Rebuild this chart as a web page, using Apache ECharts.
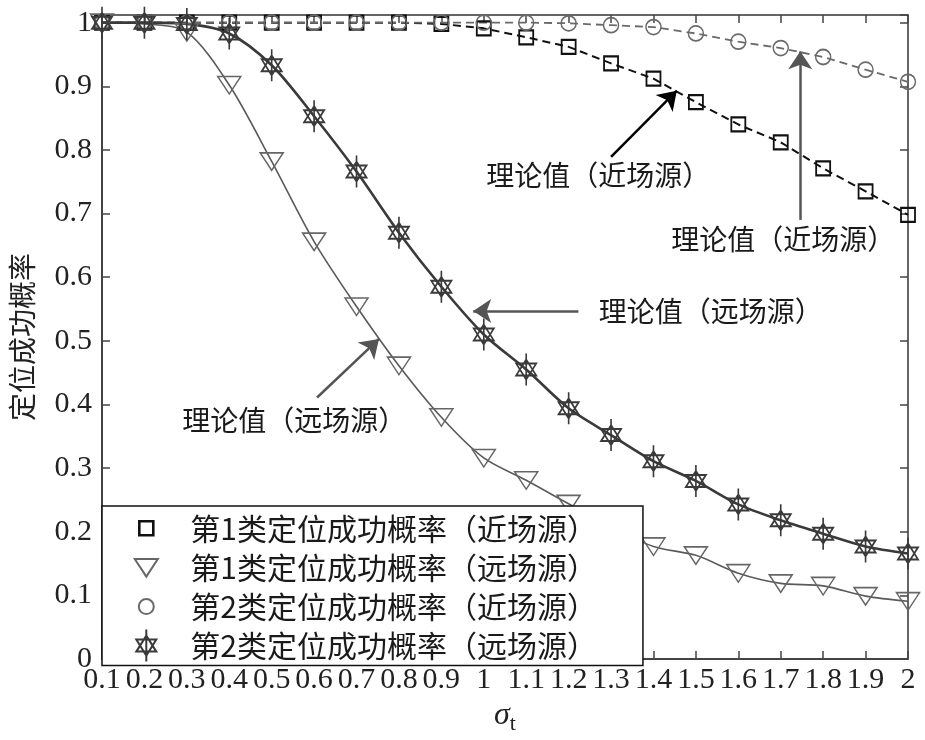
<!DOCTYPE html>
<html>
<head>
<meta charset="utf-8">
<script src="https://cdn.jsdelivr.net/npm/echarts@6/dist/echarts.min.js"></script>
<style>
html,body{margin:0;padding:0;background:#fff;}
#chart{width:925px;height:740px;}
</style>
</head>
<body>
<div id="chart"></div>
<script>
// ---- data ----
var sigmaT = [0.1,0.2,0.3,0.4,0.5,0.6,0.7,0.8,0.9,1.0,1.1,1.2,1.3,1.4,1.5,1.6,1.7,1.8,1.9,2.0];
var type1Near = [1,1,1,1,1,1,1,1,0.998,0.991,0.977,0.962,0.936,0.912,0.875,0.840,0.812,0.771,0.735,0.698];
var type1Far  = [1,0.998,0.985,0.902,0.782,0.656,0.554,0.461,0.380,0.316,0.281,0.244,0.208,0.177,0.163,0.135,0.119,0.115,0.099,0.091];
var type2Near = [1,1,1,1,1,1,1,1,1,1,1,0.999,0.996,0.993,0.983,0.970,0.960,0.946,0.926,0.907];
var type2Far  = [1,1,0.998,0.983,0.933,0.853,0.766,0.670,0.585,0.510,0.455,0.394,0.352,0.311,0.280,0.243,0.218,0.197,0.177,0.166];
var seriesNames = [
  '第1类定位成功概率（近场源）',
  '第1类定位成功概率（远场源）',
  '第2类定位成功概率（近场源）',
  '第2类定位成功概率（远场源）'
];
var annotationTexts = ['理论值（近场源）','理论值（近场源）','理论值（远场源）','理论值（远场源）'];
var annotationTextAt = [[1.27,0.76],[1.706,0.660],[1.535,0.546],[0.553,0.375]];
var arrowFrom = [[1.300,0.789],[1.746,0.690],[1.223,0.547],[0.607,0.411]];
var arrowTo   = [[1.455,0.893],[1.746,0.955],[0.975,0.547],[0.753,0.503]];
var arrowColors = ['#000','#555','#555','#555'];
var xAxisTitle = 'σ';
var xAxisSub = 't';
var yAxisTitle = '定位成功概率';

// ---- symbols (26x32 frame) ----
var FRAME = 'M0 0 M26 32 ';
var symSquare = 'path://' + FRAME + 'M6 9 L20 9 L20 23 L6 23 Z';
var symTriDown = 'path://' + FRAME + 'M1.5 7.5 L24.5 7.5 L13 25 Z';
var symCircle = 'path://' + FRAME + 'M5.5 16 A7.5 7.5 0 1 0 20.5 16 A7.5 7.5 0 1 0 5.5 16 Z';
var symStar = 'path://' + FRAME + 'M13 6 L23 22 L3 22 Z M13 26 L23 10 L3 10 Z M13 0 L13 32';

function pairs(ys){ return sigmaT.map(function(x,i){ return [x, ys[i]]; }); }

var styles = [
  {sym: symSquare, stroke:'#111', line:'#111', lw:2, type:[8,5], smooth:false, bw:2},
  {sym: symTriDown, stroke:'#666', line:'#5a5a5a', lw:1.6, type:'solid', smooth:0.3, bw:1.5},
  {sym: symCircle, stroke:'#6a6a6a', line:'#6a6a6a', lw:1.8, type:[8,5], smooth:false, bw:1.6},
  {sym: symStar, stroke:'#3a3a3a', line:'#3a3a3a', lw:2.6, type:'solid', smooth:0.3, bw:1.8}
];
var datasets = [type1Near, type1Far, type2Near, type2Far];

var series = datasets.map(function(d, i){
  var s = styles[i];
  return {
    name: seriesNames[i],
    type: 'line',
    data: pairs(d),
    symbol: s.sym,
    symbolSize: [26,32],
    smooth: s.smooth,
    lineStyle: {color: s.line, width: s.lw, type: s.type},
    itemStyle: {color: 'rgba(0,0,0,0)', borderColor: s.stroke, borderWidth: s.bw},
    emphasis: {disabled: true},
    animation: false,
    z: 3
  };
});

// annotations
series.push({
  name: 'annot',
  type: 'line',
  data: [],
  animation: false,
  markLine: {
    silent: true,
    symbol: ['none','arrow'],
    symbolSize: 18,
    label: {show: false},
    animation: false,
    data: arrowFrom.map(function(f, i){
      return [
        {coord: f, lineStyle: {color: arrowColors[i], width: 2.5, type: 'solid'}, itemStyle:{color: arrowColors[i]}},
        {coord: arrowTo[i], itemStyle:{color: arrowColors[i]}}
      ];
    })
  },
  markPoint: {
    silent: true,
    symbol: 'rect',
    symbolSize: 1,
    itemStyle: {color: 'rgba(0,0,0,0)'},
    animation: false,
    data: annotationTexts.map(function(t, i){
      return {
        coord: annotationTextAt[i],
        label: {show: true, position: 'inside', formatter: t,
          fontFamily: '"Noto Sans CJK SC"', fontSize: 28, color: '#1a1a1a'}
      };
    })
  }
});

var legendIcons = [symSquare, symTriDown, symCircle, symStar];

var axisLineStyle = {color: '#444', width: 2};
var chart = echarts.init(document.getElementById('chart'), null, {renderer: 'canvas'});
chart.setOption({
  backgroundColor: '#fff',
  animation: false,
  grid: {left: 99, right: 17, top: 15, bottom: 73},
  xAxis: [{
    type: 'value', min: 0.1, max: 2, interval: 0.1,
    name: '{s|' + xAxisTitle + '}{t|' + xAxisSub + '}',
    nameLocation: 'middle', nameGap: 36,
    nameTextStyle: {rich: {
      s: {fontFamily: '"Liberation Serif"', fontStyle: 'italic', fontSize: 32, color: '#222'},
      t: {fontFamily: '"Liberation Serif"', fontSize: 22, color: '#222', padding: [16,0,0,0]}
    }},
    axisLine: {show: true, lineStyle: axisLineStyle},
    axisTick: {show: true, inside: true, length: 8, lineStyle: {color: '#444', width: 1.5}},
    axisLabel: {fontFamily: '"Liberation Serif"', fontSize: 30, color: '#222', margin: 6},
    splitLine: {show: false}
  }, {
    type: 'value', min: 0.1, max: 2, interval: 0.1, position: 'top',
    axisLine: {show: true, onZero: false, lineStyle: {color: '#333', width: 1.5}},
    axisTick: {show: true, inside: true, length: 8, lineStyle: {color: '#444', width: 1.5}},
    axisLabel: {show: false},
    splitLine: {show: false}
  }],
  yAxis: [{
    type: 'value', min: 0, max: 1.012, interval: 0.1,
    name: yAxisTitle, nameLocation: 'middle', nameGap: 66, nameRotate: 90,
    nameTextStyle: {fontFamily: '"Noto Sans CJK SC"', fontSize: 28, color: '#222'},
    axisLine: {show: true, lineStyle: axisLineStyle},
    axisTick: {show: true, inside: true, length: 8, lineStyle: {color: '#444', width: 1.5}},
    axisLabel: {fontFamily: '"Liberation Serif"', fontSize: 30, color: '#222', margin: 10,
      formatter: function(v){ var r = Math.round(v*10); return Math.abs(v*10 - r) < 1e-6 ? String(r/10) : ''; }},
    splitLine: {show: false}
  }, {
    type: 'value', min: 0, max: 1.012, interval: 0.1, position: 'right',
    axisLine: {show: true, onZero: false, lineStyle: {color: '#333', width: 1.5}},
    axisTick: {show: true, inside: true, length: 8, lineStyle: {color: '#444', width: 1.5}},
    axisLabel: {show: false},
    splitLine: {show: false}
  }],
  legend: {
    orient: 'vertical',
    left: 102, top: 506,
    padding: [5, 46, 3, 30],
    itemWidth: 26, itemHeight: 32,
    itemGap: 5,
    borderColor: '#111', borderWidth: 1.5, backgroundColor: '#fff',
    selectedMode: false,
    textStyle: {fontFamily: '"Noto Sans CJK SC"', fontSize: 30, color: '#1a1a1a', padding: [0,0,0,26]},
    data: seriesNames.map(function(n, i){
      return {name: n, icon: legendIcons[i],
        itemStyle: {color: 'rgba(0,0,0,0)', borderColor: styles[i].stroke, borderWidth: i === 0 ? 2.6 : 2}};
    })
  },
  series: series
});
</script>
</body>
</html>
